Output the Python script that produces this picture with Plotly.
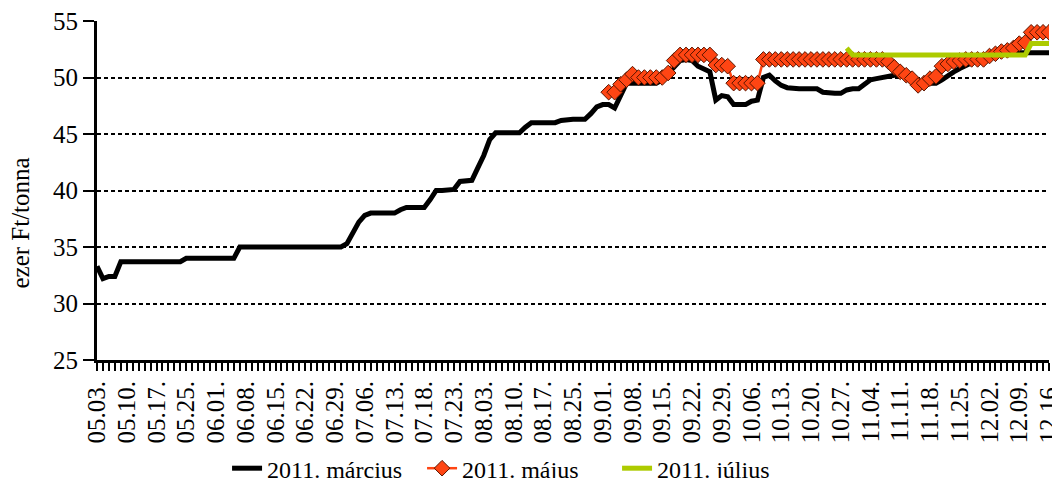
import plotly.graph_objects as go

# --- data -------------------------------------------------------------
tick_labels = ["05.03.", "05.10.", "05.17.", "05.25.", "06.01.", "06.08.", "06.15.",
               "06.22.", "06.29.", "07.06.", "07.13.", "07.18.", "07.23.", "08.03.",
               "08.10.", "08.17.", "08.25.", "09.01.", "09.08.", "09.15.", "09.22.",
               "09.29.", "10.06.", "10.13.", "10.20.", "10.27.", "11.04.", "11.11.",
               "11.18.", "11.25.", "12.02.", "12.09.", "12.16."]

day_index = list(range(161))

marcius = [
    33.3, 32.2, 32.4, 32.4, 33.7, 33.7, 33.7, 33.7, 33.7, 33.7,
    33.7, 33.7, 33.7, 33.7, 33.7, 34.0, 34.0, 34.0, 34.0, 34.0,
    34.0, 34.0, 34.0, 34.0, 35.0, 35.0, 35.0, 35.0, 35.0, 35.0,
    35.0, 35.0, 35.0, 35.0, 35.0, 35.0, 35.0, 35.0, 35.0, 35.0,
    35.0, 35.0, 35.3, 36.2, 37.2, 37.8, 38.0, 38.0, 38.0, 38.0,
    38.0, 38.3, 38.5, 38.5, 38.5, 38.5, 39.2, 40.0, 40.0, 40.0,
    40.1, 40.8, 40.9, 40.9, 42.0, 43.1, 44.5, 45.1, 45.1, 45.1,
    45.1, 45.1, 45.6, 46.0, 46.0, 46.0, 46.0, 46.0, 46.2, 46.3,
    46.3, 46.3, 46.3, 46.8, 47.4, 47.6, 47.6, 47.3, 48.3, 49.5,
    49.5, 49.5, 49.5, 49.5, 49.5, 49.8, 50.4, 51.0, 51.5, 51.6,
    51.5, 51.0, 50.7, 50.5, 48.0, 48.4, 48.3, 47.6, 47.6, 47.6,
    47.9, 48.0, 50.0, 50.2, 49.7, 49.3, 49.1, 49.0, 49.0, 49.0,
    49.0, 49.0, 48.7, 48.6, 48.6, 48.6, 48.9, 49.0, 49.0, 49.4,
    49.8, 49.9, 50.0, 50.2, 50.2, 50.2, 50.2, 49.9, 49.6, 49.5,
    49.5, 49.5, 49.8, 50.2, 50.5, 50.8, 51.1, 51.3, 51.5, 51.7,
    51.9, 52.1, 52.2, 52.2, 52.2, 52.2, 52.2, 52.2, 52.2, 52.2,
    52.2,
]

majus = [None] * 86 + [
    48.7, 48.7, 49.4, 49.8, 50.3, 50.0, 50.0, 50.0, 50.0, 50.0,
    50.4, 51.5, 52.0, 52.0, 52.0, 52.0, 52.0, 52.0, 51.1, 51.1,
    51.0, 49.5, 49.5, 49.5, 49.5, 49.5, 51.6, 51.6, 51.6, 51.6,
    51.6, 51.6, 51.6, 51.6, 51.6, 51.6, 51.6, 51.6, 51.6, 51.6,
    51.6, 51.6, 51.6, 51.6, 51.6, 51.6, 51.6, 51.4, 50.9, 50.5,
    50.2, 49.9, 49.3, 49.5, 49.9, 50.1, 51.0, 51.2, 51.4, 51.5,
    51.6, 51.6, 51.6, 51.6, 51.9, 52.1, 52.3, 52.4, 52.6, 53.0,
    53.1, 54.0, 54.0, 54.0, 54.0,
]

julius = [None] * 126 + [
    52.6, 52.0, 52.0, 52.0, 52.0, 52.0, 52.0, 52.0, 52.0, 52.0,
    52.0, 52.0, 52.0, 52.0, 52.0, 52.0, 52.0, 52.0, 52.0, 52.0,
    52.0, 52.0, 52.0, 52.0, 52.0, 52.0, 52.0, 52.0, 52.0, 52.0,
    52.0, 53.0, 53.0, 53.0, 53.0,
]

series_names = ["2011. március", "2011. május", "2011. július"]
y_title = "ezer Ft/tonna"

# --- figure -----------------------------------------------------------
FONT = "'Liberation Serif', 'Times New Roman', 'DejaVu Serif', serif"
FS = 24

fig = go.Figure()
fig.add_trace(go.Scatter(
    x=day_index, y=marcius, name=series_names[0], mode="lines",
    line=dict(color="#000000", width=5)))
fig.add_trace(go.Scatter(
    x=day_index, y=majus, name=series_names[1], mode="lines+markers",
    line=dict(color="#FF4513", width=2.5),
    marker=dict(symbol="diamond", size=12, color="#FF4513",
                line=dict(color="#5a1500", width=1))))
fig.add_trace(go.Scatter(
    x=day_index, y=julius, name=series_names[2], mode="lines",
    line=dict(color="#ADCB00", width=5)))

# the page body adds an 8px margin, so the figure is made smaller to fit
fig.update_layout(
    width=1044, height=470,
    margin=dict(l=89, r=3, t=13, b=118, autoexpand=False),
    paper_bgcolor="white", plot_bgcolor="white",
    font=dict(family=FONT, size=FS, color="black"),
    showlegend=True,
    legend=dict(orientation="h", xref="container", x=0.49, xanchor="center",
                yref="container", y=0.02, yanchor="middle",
                font=dict(family=FONT, size=FS),
                itemwidth=30, tracegroupgap=0,
                entrywidth=150, entrywidthmode="pixels"),
    annotations=[dict(text=y_title, textangle=-90, showarrow=False,
                      xref="paper", x=-0.08, xanchor="center",
                      yref="paper", y=0.405, yanchor="middle",
                      font=dict(family=FONT, size=25))],
)

fig.update_xaxes(
    range=[0, 160],
    tickmode="array", tickvals=day_index[::5], ticktext=tick_labels,
    tickangle=-90, ticks="outside", ticklen=8, tickwidth=2, tickcolor="black",
    ticklabeloverflow="allow",
    minor=dict(tickmode="linear", tick0=0, dtick=1, ticks="outside", ticklen=8,
               tickwidth=2, tickcolor="black", showgrid=False),
    showline=True, linecolor="black", linewidth=3,
    showgrid=False, zeroline=False,
    tickfont=dict(family=FONT, size=25),
)

fig.update_yaxes(
    range=[25, 55], dtick=5, tick0=25,
    ticks="outside", ticklen=11, tickwidth=2, tickcolor="black",
    ticklabeloverflow="allow",
    showline=True, linecolor="black", linewidth=3,
    showgrid=True, gridcolor="black", gridwidth=2, griddash="4px,3px",
    zeroline=False,
    tickfont=dict(family=FONT, size=25),
)

fig.write_html("out.html")
